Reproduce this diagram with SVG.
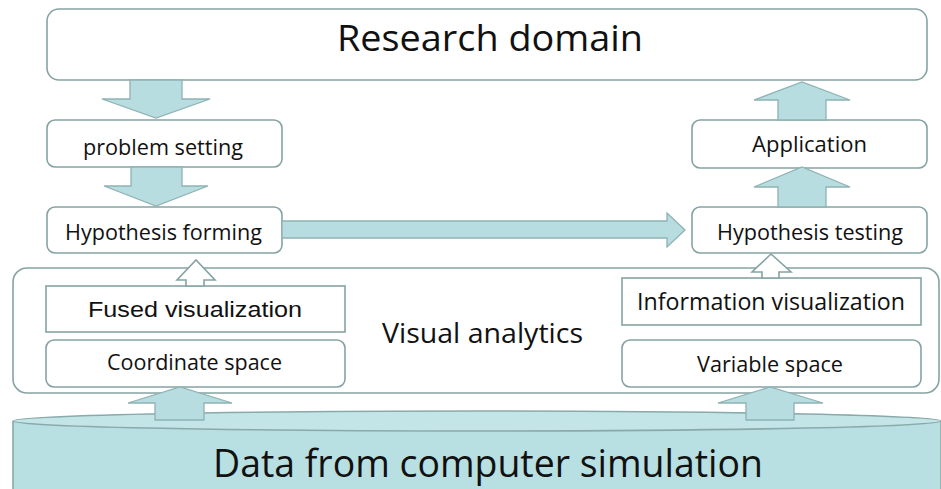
<svg xmlns="http://www.w3.org/2000/svg" width="941" height="489" viewBox="0 0 941 489">
<defs>
<style>
.box{fill:#ffffff;stroke:#86a3a3;stroke-width:1.6}
.arrow{fill:#b7dde0;stroke:#8fb2b4;stroke-width:1.3;stroke-linejoin:miter}
.hollow{fill:#ffffff;stroke:#86a3a3;stroke-width:1.6}
.t{font-family:"Open Sans","Liberation Sans",sans-serif;fill:#111111;text-anchor:middle}
.ta{font-family:"Liberation Sans",Arial,sans-serif;fill:#111111;text-anchor:middle}
</style>
</defs>
<rect x="0" y="0" width="941" height="489" fill="#ffffff"/>

<g id="research-domain">
<rect class="box" x="47" y="9" width="880" height="71" rx="12"/>
<text class="t" x="490" y="51" font-size="37" textLength="306" lengthAdjust="spacingAndGlyphs">Research domain</text>
</g>

<g id="problem-setting">
<rect class="box" x="47" y="120" width="235" height="47" rx="8"/>
<text class="t" x="163" y="155" font-size="21.5" textLength="160" lengthAdjust="spacingAndGlyphs">problem setting</text>
</g>

<g id="hypothesis-forming">
<rect class="box" x="47" y="207" width="235" height="46" rx="8"/>
<text class="t" x="163.5" y="240" font-size="21.5" textLength="197" lengthAdjust="spacingAndGlyphs">Hypothesis forming</text>
</g>

<g id="application">
<rect class="box" x="692" y="120" width="235" height="48" rx="8"/>
<text class="t" x="809.5" y="152" font-size="21.5" textLength="115" lengthAdjust="spacingAndGlyphs">Application</text>
</g>

<g id="hypothesis-testing">
<rect class="box" x="692" y="207" width="235" height="46" rx="8"/>
<text class="t" x="810" y="240" font-size="21.5" textLength="186" lengthAdjust="spacingAndGlyphs">Hypothesis testing</text>
</g>

<g id="data-from-computer-simulation">
<path d="M13,421 L13,495 L941,495 L941,421" fill="#b8dfe2" stroke="#8aa9aa" stroke-width="1.6"/>
<ellipse cx="477" cy="421" rx="464" ry="10" fill="#c3e5e7" stroke="#8aa9aa" stroke-width="1.6"/>
<text class="t" x="488" y="477" font-size="38" textLength="550" lengthAdjust="spacingAndGlyphs">Data from computer simulation</text>
</g>

<g id="visual-analytics">
<rect class="box" x="13" y="268" width="926" height="125" rx="14"/>
<text class="t" x="482.5" y="343" font-size="28" textLength="201" lengthAdjust="spacingAndGlyphs">Visual analytics</text>
</g>

<g id="fused-visualization">
<rect class="box" x="46" y="286" width="299" height="46"/>
<text class="ta" x="195" y="317" font-size="22" textLength="214" lengthAdjust="spacingAndGlyphs">Fused visualization</text>
</g>

<g id="coordinate-space">
<rect class="box" x="46" y="340" width="299" height="47" rx="8"/>
<text class="t" x="194.5" y="370" font-size="21.5" textLength="175" lengthAdjust="spacingAndGlyphs">Coordinate space</text>
</g>

<g id="information-visualization">
<rect class="box" x="622" y="278" width="299" height="47"/>
<text class="t" x="771" y="310" font-size="23" textLength="268" lengthAdjust="spacingAndGlyphs">Information visualization</text>
</g>

<g id="variable-space">
<rect class="box" x="622" y="340" width="299" height="47" rx="8"/>
<text class="t" x="770" y="372" font-size="21.5" textLength="146" lengthAdjust="spacingAndGlyphs">Variable space</text>
</g>

<g id="connectors">
<polygon class="arrow" points="130,80 182,80 182,99 210,99 156,118 102,99 130,99"/>
<polygon class="arrow" points="131,167 182,167 182,186 208,186 156,206 104,186 131,186"/>
<polygon class="arrow" points="282,221 667,221 667,213 685,230 667,247 667,238 282,238"/>
<polygon class="arrow" points="778,207 826,207 826,187 850,187 802,167 754,187 778,187"/>
<polygon class="arrow" points="778,120 826,120 826,100 850,100 802,82 754,100 778,100"/>
<polygon class="hollow" points="186,286 204,286 204,280 215,280 196,260 177,280 186,280"/>
<polygon class="hollow" points="762,278 779,278 779,272 791,272 771,254 752,272 762,272"/>
<polygon class="arrow" points="155,420 204,420 204,403 232,403 180,387 128,403 155,403"/>
<polygon class="arrow" points="746,420 794,420 794,403 823,403 770,387 718,403 746,403"/>
</g>
</svg>
